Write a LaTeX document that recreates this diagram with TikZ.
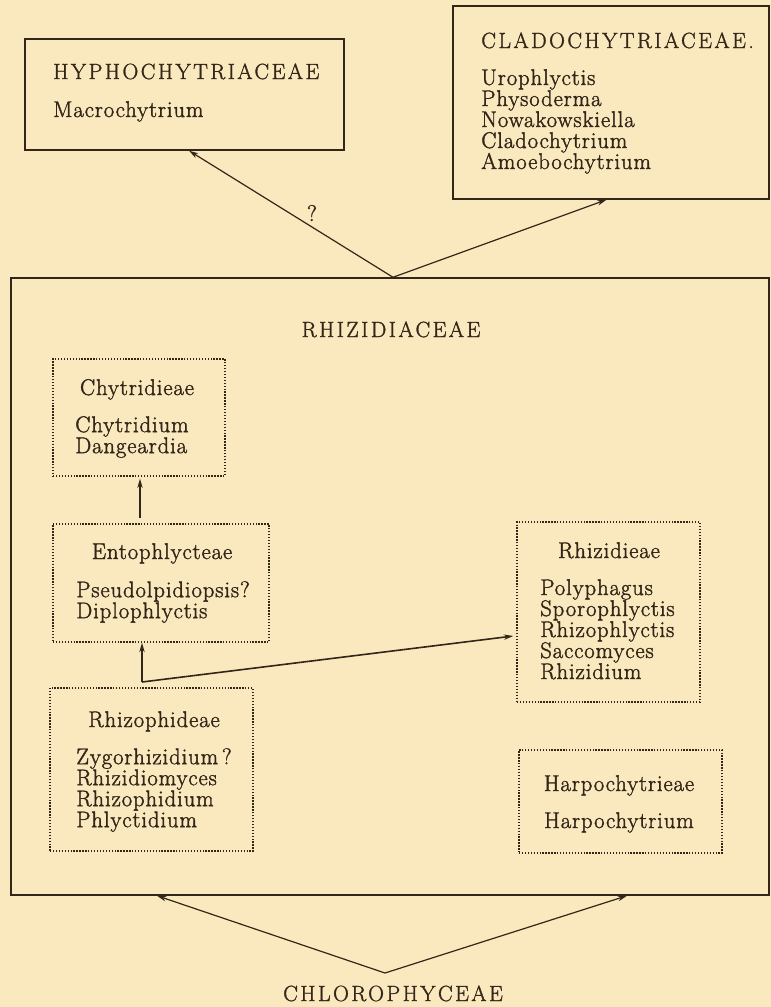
\documentclass[tikz,border=0pt]{standalone}
\usepackage{fontspec}
\setmainfont{Latin Modern Roman}
\usetikzlibrary{arrows.meta}
\definecolor{paper}{RGB}{250,232,190}
\definecolor{ink}{RGB}{50,38,24}
\newcommand{\famfont}{\fontsize{16.5}{15.75}\selectfont\addfontfeature{LetterSpace=11,FakeBold=1.3}}
\newcommand{\genfont}{\fontsize{17}{15.75}\selectfont\addfontfeature{LetterSpace=4,FakeBold=1.6}}
\tikzset{
  fambox/.style={draw=ink, line width=1.1pt},
  tribebox/.style={draw=ink, line width=1.1pt, dash pattern=on 1pt off 1.2pt},
  famname/.style={text=ink, font=\famfont, inner sep=0pt, anchor=base},
  tribename/.style={text=ink, font=\genfont, inner sep=0pt, anchor=base},
  genera/.style={text=ink, font=\genfont, inner sep=0pt, anchor=north west, align=left},
  link/.style={draw=ink, line width=0.9pt, -{Stealth[length=7pt,width=4pt]}},
}
\begin{document}
\begin{tikzpicture}[x=0.75pt,y=-0.75pt]
    \fill[paper] (0,0) rectangle (771,1007);
    % families
    \node[fambox, minimum width=239.25pt, minimum height=83.25pt] (hypho) at (184.5,94.5) {};
    \node[famname, anchor=base west] (hyphoname) at (53,79) {HYPHOCHYTRIACEAE};
    \node[genera] (hyphogen) at (53,101) {Macrochytrium};
    \node[fambox, minimum width=237pt, minimum height=144.75pt] (clado) at (611,102.5) {};
    \node[famname, anchor=base west] (cladoname) at (481,48) {CLADOCHYTRIACEAE.};
    \node[genera] (cladogen) at (481,69) {Urophlyctis\\Physoderma\\Nowakowskiella\\Cladochytrium\\Amoebochytrium};
    \node[fambox, minimum width=568.5pt, minimum height=462.75pt] (rhizi) at (390,586.5) {};
    \node[famname] (rhiziname) at (391,337) {RHIZIDIACEAE};
    % tribes
    \node[tribebox, minimum width=129pt, minimum height=87.75pt] (chytri) at (139,417.5) {};
    \node[tribename] (chytriname) at (137,395) {Chytridieae};
    \node[genera] (chytrigen) at (75,416) {Chytridium\\Dangeardia};
    \node[tribebox, minimum width=162pt, minimum height=88.5pt] (ento) at (161,583) {};
    \node[tribename] (entoname) at (162,559) {Entophlycteae};
    \node[genera] (entogen) at (76,581) {Pseudolpidiopsis?\\Diplophlyctis};
    \node[tribebox, minimum width=137.25pt, minimum height=135pt] (rhizid) at (608.5,612) {};
    \node[tribename] (rhizidname) at (609,558) {Rhizidieae};
    \node[genera] (rhizidgen) at (540,579) {Polyphagus\\Sporophlyctis\\Rhizophlyctis\\Saccomyces\\Rhizidium};
    \node[tribebox, minimum width=152.25pt, minimum height=122.25pt] (rhizoph) at (151.5,769.5) {};
    \node[tribename] (rhizophname) at (154,727) {Rhizophideae};
    \node[genera] (rhizophgen) at (76,748) {Zygorhizidium\,?\\Rhizidiomyces\\Rhizophidium\\Phlyctidium};
    \node[tribebox, minimum width=152.25pt, minimum height=77.25pt] (harpo) at (620.5,801.5) {};
    \node[tribename] (harponame) at (619,791) {Harpochytrieae};
    \node[tribename] (harpogen) at (619,828) {Harpochytrium};
    \node[famname] (chloro) at (393,1001) {CHLOROPHYCEAE};
    % links
    \coordinate (fork) at (142,682);
    \coordinate (root) at (385,973);
    \draw[link] ([xshift=2.25pt]rhizi.north) -- ([xshift=3.4pt]hypho.south);
    \draw[link] ([xshift=2.25pt]rhizi.north) -- ([xshift=-3.4pt]clado.south);
    \node[tribename] (doubt) at (312,221) {?};
    \draw[link] ([xshift=-15.75pt,yshift=3.75pt]ento.north) -- ([xshift=0.75pt,yshift=-1.5pt]chytri.south);
    \draw[link, line width=1.2pt] (fork) -- (fork |- ento.south);
    \draw[link, line width=1.2pt] (fork) -- ([xshift=-2.25pt,yshift=-18pt]rhizid.west);
    \draw[link] (root) -- ([xshift=-174.75pt]rhizi.south);
    \draw[link] (root) -- ([xshift=177.75pt]rhizi.south);
\end{tikzpicture}
\end{document}
